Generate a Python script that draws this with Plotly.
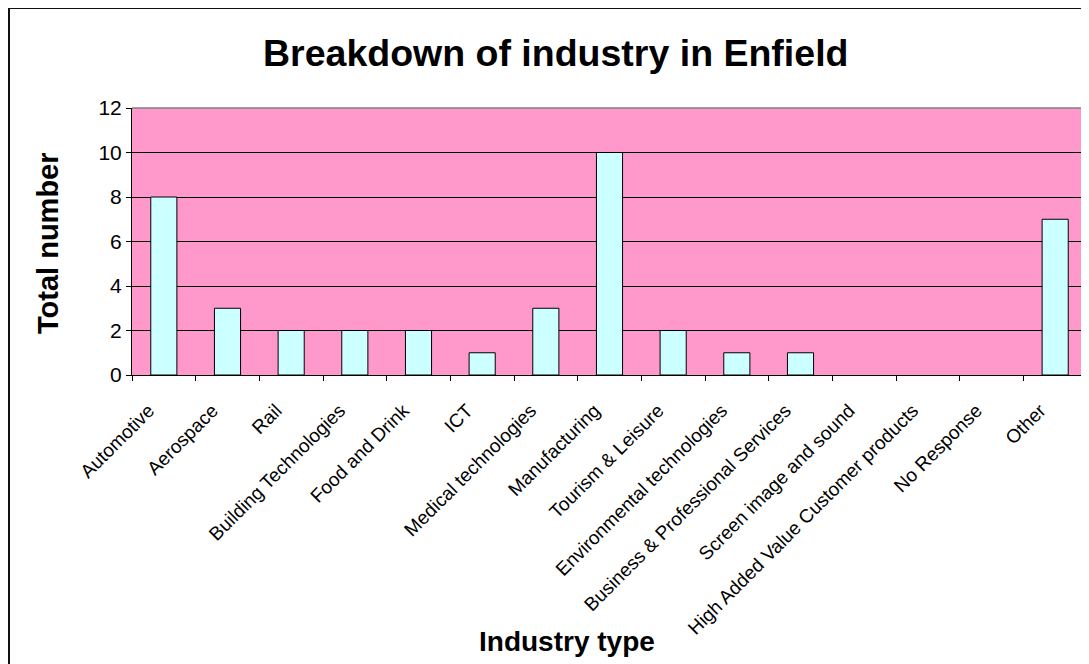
import plotly.graph_objects as go

categories = [
    "Automotive", "Aerospace", "Rail", "Building Technologies", "Food and Drink",
    "ICT", "Medical technologies", "Manufacturing", "Tourism & Leisure",
    "Environmental technologies", "Business & Professional Services",
    "Screen image and sound", "High Added Value Customer products",
    "No Response", "Other",
]
totals = [8, 3, 2, 2, 2, 1, 3, 10, 2, 1, 1, 0, 0, 0, 7]
y_ticks = [0, 2, 4, 6, 8, 10, 12]

W, H = 1089, 664
OFF = 8  # page body margin offset
L, R, T, B = 132 - OFF, 1087 - OFF, 108 - OFF, 375 - OFF  # plot area in figure pixels
pw, ph = R - L, B - T

def px(x):
    return (x - OFF - L) / pw

def py(y):
    return (B - (y - OFF)) / ph

FONT = "Liberation Sans, Arial, sans-serif"

# zero-height bars have no visible outline in the reference
outline_widths = [1 if v > 0 else 0 for v in totals]

fig = go.Figure(go.Bar(
    x=categories, y=totals, width=0.41,
    marker=dict(color="#CCFFFF", line=dict(color="black", width=outline_widths)),
))

fig.update_layout(
    width=W, height=H,
    margin=dict(l=L, r=W - R, t=T, b=H - B, autoexpand=False),
    paper_bgcolor="white", plot_bgcolor="#FF99CC",
    showlegend=False,
    font=dict(family=FONT, color="black"),
    xaxis=dict(
        type="category", tickangle=-45, tickson="boundaries",
        ticks="outside", ticklen=5, tickcolor="black",
        ticklabelstandoff=16, ticklabelshift=-15,
        showline=True, linecolor="black", linewidth=1,
        showgrid=False, automargin=False,
        tickfont=dict(size=19, family=FONT, color="black"),
    ),
    yaxis=dict(
        range=[0, 12], tickvals=y_ticks,
        ticks="outside", ticklen=5, tickcolor="black",
        showline=True, linecolor="black", linewidth=1,
        showgrid=True, gridcolor="black", gridwidth=1,
        zeroline=False, automargin=False,
        tickfont=dict(size=21, family=FONT, color="black"),
    ),
    shapes=[
        dict(type="line", xref="paper", yref="paper", x0=0, x1=1, y0=1, y1=1,
             line=dict(color="#808080", width=1.5), layer="above"),
        dict(type="line", xref="paper", yref="paper", x0=1, x1=1, y0=0, y1=1,
             line=dict(color="#808080", width=1.5), layer="above"),
        dict(type="rect", xref="paper", yref="paper",
             x0=px(9), x1=px(1200), y0=py(8), y1=py(800),
             line=dict(color="#111111", width=2), layer="above"),
    ],
    annotations=[
        dict(text="<b>Breakdown of industry in Enfield</b>", xref="paper", yref="paper",
             x=px(555), y=py(53), xanchor="center", yanchor="middle", showarrow=False,
             font=dict(size=37.5, family=FONT, color="black")),
        dict(text="<b>Total number</b>", xref="paper", yref="paper",
             x=px(48), y=py(243), xanchor="center", yanchor="middle", showarrow=False,
             textangle=-90, font=dict(size=29, family=FONT, color="black")),
        dict(text="<b>Industry type</b>", xref="paper", yref="paper",
             x=px(567), y=py(641), xanchor="center", yanchor="middle", showarrow=False,
             font=dict(size=28, family=FONT, color="black")),
    ],
)

fig.write_html("out.html")
